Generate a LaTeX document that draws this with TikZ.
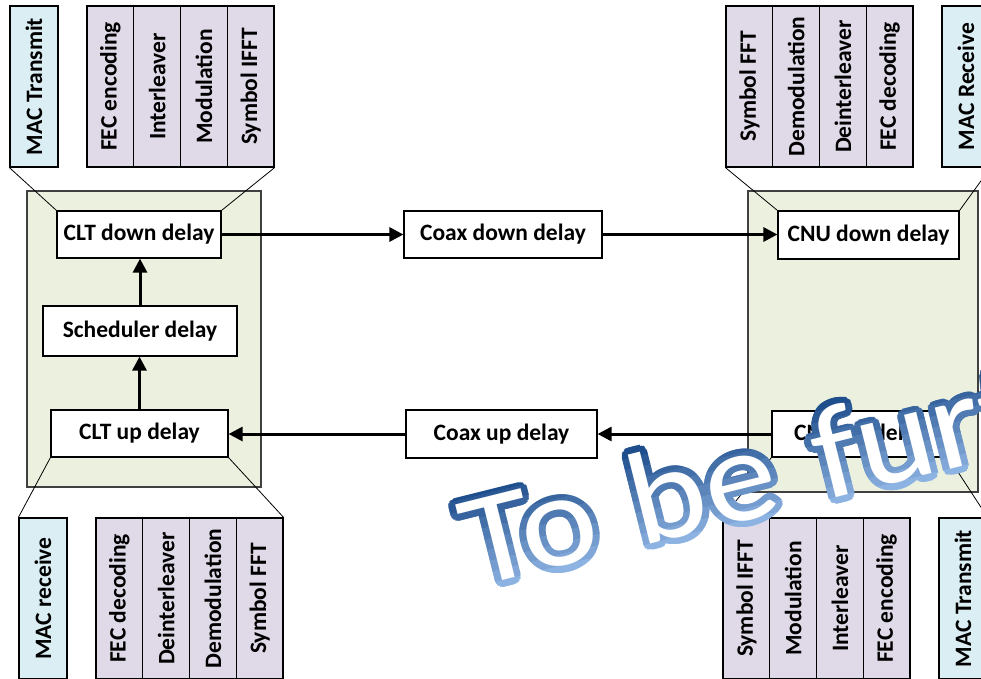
\documentclass[tikz,border=0pt]{standalone}
\usepackage{fontspec}
\setmainfont{Carlito}
\usepackage{graphicx}
\usetikzlibrary{arrows.meta}
\definecolor{gfill}{HTML}{EBF1DE}
\definecolor{pfill}{HTML}{E0DAE8}
\definecolor{bfill}{HTML}{DAEEF3}
\definecolor{wmdark}{HTML}{1F4E8C}
\definecolor{wmlight}{HTML}{8DB3E2}
\newcommand\vtxt[1]{\rotatebox{90}{#1}}
\newcommand\wmstring{To\hspace{34pt}be\hspace{37pt}further}
\tikzset{
  lbl/.style={font=\fontsize{23.5}{27}\selectfont\bfseries},
  delaybox/.style={draw=black, line width=1.2pt, fill=white, inner sep=0pt, lbl},
  colp/.style={draw=black, line width=1.2pt, fill=pfill, minimum width=46.75pt, minimum height=161pt, inner sep=0pt, lbl},
  colb/.style={colp, fill=bfill, minimum width=48pt},
  group/.style={draw=black!75, line width=1.2pt, fill=gfill, inner sep=0pt},
  flow/.style={line width=3pt, -{Triangle[length=14pt,width=14pt]}},
  zoomline/.style={line width=0.8pt},
  wmtext/.style={anchor=base west, inner sep=0pt, transform shape, font=\fontsize{132}{150}\selectfont},
}
\begin{document}
\begin{tikzpicture}[x=1pt, y=-1pt]
\useasboundingbox (0,0) rectangle (981,678);
\clip (0,0) rectangle (981,678);
% group boxes
\node[group, minimum width=234pt, minimum height=296pt] (clt) at (144,339) {};
\node[group, minimum width=230pt, minimum height=301pt] (cnu) at (863,341.5) {};
% delay boxes
\node[delaybox, minimum width=164pt, minimum height=47pt] (cltd) at (139,234.5) {CLT down delay};
\node[delaybox, minimum width=194pt, minimum height=50pt] (sched) at (140,331) {Scheduler delay};
\node[delaybox, minimum width=177pt, minimum height=47pt] (cltu) at (139.5,433.5) {CLT up delay};
\node[delaybox, minimum width=198pt, minimum height=47pt] (coaxd) at (503,234.5) {Coax down delay};
\node[delaybox, minimum width=191pt, minimum height=48pt] (coaxu) at (501.5,434) {Coax up delay};
\node[delaybox, minimum width=181pt, minimum height=48pt] (cnud) at (868.5,235) {CNU down delay};
\node[delaybox, minimum width=176pt, minimum height=46pt] (cnuu) at (860,434) {CNU up delay};
% top-left columns
\node[colb] (mtTL) at (34,86.5) {\vtxt{MAC Transmit}};
\node[colp] (fecTL) at (110.4,86.5) {\vtxt{FEC encoding}};
\node[colp] (intTL) at (157.1,86.5) {\vtxt{Interleaver}};
\node[colp] (modTL) at (203.9,86.5) {\vtxt{Modulation}};
\node[colp] (ifftTL) at (250.6,86.5) {\vtxt{Symbol IFFT}};
% top-right columns
\node[colp] (fftTR) at (749.4,86.5) {\vtxt{Symbol FFT}};
\node[colp] (demTR) at (796.1,86.5) {\vtxt{Demodulation}};
\node[colp] (deiTR) at (842.9,86.5) {\vtxt{Deinterleaver}};
\node[colp] (fecTR) at (889.6,86.5) {\vtxt{FEC decoding}};
\node[colb] (mrTR) at (966,86.5) {\vtxt{MAC Receive}};
% bottom-left columns
\node[colb] (mrBL) at (43,598.5) {\vtxt{MAC receive}};
\node[colp] (fecBL) at (119.4,598.5) {\vtxt{FEC decoding}};
\node[colp] (deiBL) at (166.1,598.5) {\vtxt{Deinterleaver}};
\node[colp] (demBL) at (212.9,598.5) {\vtxt{Demodulation}};
\node[colp] (fftBL) at (259.6,598.5) {\vtxt{Symbol FFT}};
% bottom-right columns
\node[colp] (ifftBR) at (746.4,598.5) {\vtxt{Symbol IFFT}};
\node[colp] (modBR) at (793.1,598.5) {\vtxt{Modulation}};
\node[colp] (intBR) at (839.9,598.5) {\vtxt{Interleaver}};
\node[colp] (fecBR) at (886.6,598.5) {\vtxt{FEC encoding}};
\node[colb] (mtBR) at (963,598.5) {\vtxt{MAC Transmit}};
% zoom lines
\draw[zoomline] (mtTL.south west) -- (cltd.north west);
\draw[zoomline] (ifftTL.south east) -- (cltd.north east);
\draw[zoomline] (fftTR.south west) -- (cnud.north west);
\draw[zoomline] (mrTR.south east) -- (cnud.north east);
\draw[zoomline] (cltu.south west) -- (mrBL.north west);
\draw[zoomline] (cltu.south east) -- (fftBL.north east);
\draw[zoomline] (cnuu.south west) -- (ifftBR.north west);
\draw[zoomline] (cnuu.south east) -- (mtBR.north east);
% flow arrows
\draw[flow] (cltd.east) -- (coaxd.west);
\draw[flow] (coaxd.east) -- (cnud.west |- coaxd.east);
\draw[flow] (cnuu.west) -- (coaxu.east);
\draw[flow] (coaxu.west) -- (cltu.east |- coaxu.west);
\draw[flow] (cltu.north) -- (sched.south -| cltu.north);
\draw[flow] (sched.north) -- (cltd.south -| sched.north);
% watermark
\begin{scope}[shift={(474,588)}, rotate=14, xscale=1.1]
  \foreach \i in {0,...,9}{
    \pgfmathsetmacro\ya{\i==0 ? -170 : -100+\i*11}
    \pgfmathsetmacro\yb{\i==9 ? 60 : -100+(\i+1)*11}
    \pgfmathtruncatemacro\t{\i*100/9}
    \colorlet{bandc}{wmlight!\t!wmdark}
    \begin{scope}
      \clip (-40,\ya) rectangle (900,\yb);
      \foreach \a in {0,15,...,345}{
        \node[wmtext, text=bandc] (wmo) at ({6.1*cos(\a)},{6.5*sin(\a)}) {\wmstring};
      }
    \end{scope}
  }
  \node[wmtext, text=white] (wm) at (0,0) {\wmstring};
\end{scope}
\end{tikzpicture}
\end{document}
